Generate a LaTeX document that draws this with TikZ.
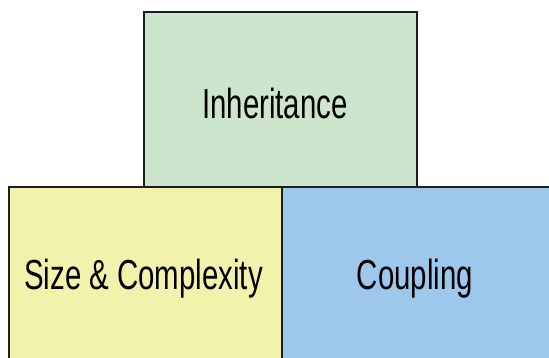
\documentclass[tikz,border=0pt]{standalone}
\usepackage{fontspec}
\newfontfamily\lab[FakeStretch=0.70]{Liberation Sans}
\definecolor{inhgreen}{HTML}{CCE5CC}
\definecolor{sizeyellow}{HTML}{F2F2AC}
\definecolor{coupblue}{HTML}{9DC8EC}
\definecolor{edge}{HTML}{1E1E1E}
\tikzset{
  block/.style={draw=edge, line width=2pt, rectangle, inner sep=0pt, anchor=north west},
  blocklabel/.style={inner sep=0pt, anchor=base, font=\lab\fontsize{42}{50}\selectfont, text=black}
}
\begin{document}
\begin{tikzpicture}[x=1pt,y=-1pt]
\useasboundingbox (0,0) rectangle (549,358);
\clip (0,0) rectangle (549,358);
\node[block, fill=inhgreen, minimum width=273.5pt, minimum height=175pt] (inh) at (142.5,11) {};
\node[block, fill=sizeyellow, minimum width=273pt, minimum height=185pt] (size) at (8,186) {};
\node[block, fill=coupblue, minimum width=280pt, minimum height=185pt] (coup) at (281,186) {};
\node[blocklabel] (inhlabel) at (275,119) {Inheritance};
\node[blocklabel] (sizelabel) at (143.5,290) {Size \& Complexity};
\node[blocklabel] (couplabel) at (415,290) {Coupling};
\end{tikzpicture}
\end{document}
